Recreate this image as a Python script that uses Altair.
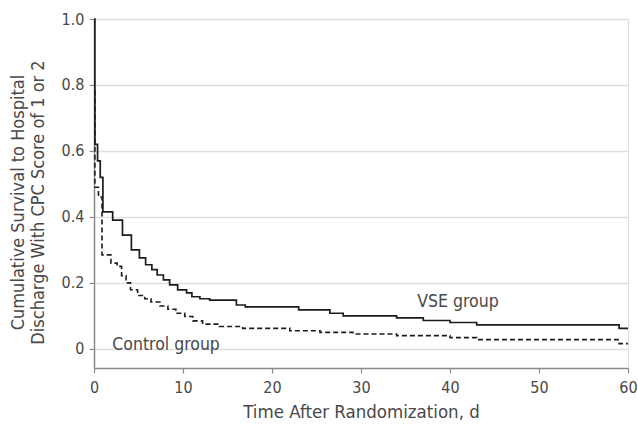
import altair as alt
import pandas as pd

# VSE group (solid) step curve: time (days) and cumulative survival
vse_t = [0, 0.1, 0.4, 0.7, 1.0, 2.1, 3.2, 4.2, 5.1, 5.8, 6.5, 7.1, 7.8, 8.5, 9.4,
         10.4, 11.0, 11.9, 13.0, 16.0, 17.0, 23.0, 26.5, 28.0, 34.0, 37.0, 40.0,
         43.0, 59.0, 60.0]
vse_s = [1.0, 0.62, 0.57, 0.52, 0.415, 0.39, 0.345, 0.30, 0.276, 0.255, 0.24,
         0.224, 0.209, 0.194, 0.179, 0.17, 0.158, 0.152, 0.148, 0.133, 0.127,
         0.118, 0.108, 0.10, 0.094, 0.086, 0.08, 0.073, 0.062, 0.062]

# Control group (dashed) step curve
ctl_t = [0, 0.1, 0.5, 0.9, 1.9, 2.6, 3.1, 3.6, 4.1, 4.9, 5.7, 6.4, 7.4, 8.3, 9.2,
         10.2, 11.1, 12.2, 14.1, 16.7, 22.0, 25.4, 29.1, 34.0, 40.0, 43.0, 59.0,
         60.0]
ctl_s = [0.78, 0.49, 0.46, 0.285, 0.26, 0.25, 0.222, 0.20, 0.179, 0.162, 0.152,
         0.142, 0.13, 0.12, 0.108, 0.098, 0.085, 0.075, 0.068, 0.062, 0.055,
         0.05, 0.045, 0.04, 0.034, 0.028, 0.016, 0.016]

label_text = ["VSE group", "Control group"]
label_t = [40.9, 8.1]
label_s = [0.142, 0.012]

x_ticks = [0, 10, 20, 30, 40, 50, 60]
y_ticks = [0, 0.2, 0.4, 0.6, 0.8, 1.0]

FONT = "DejaVu Sans Condensed, DejaVu Sans, sans-serif"
TEXT_COLOR = "#484848"

vse_df = pd.DataFrame({"t": vse_t, "s": vse_s})
ctl_df = pd.DataFrame({"t": ctl_t, "s": ctl_s})
lab_df = pd.DataFrame({"t": label_t, "s": label_s, "label": label_text})

x_scale = alt.Scale(domain=[0, 60], nice=False, zero=False)
y_scale = alt.Scale(domain=[-0.058, 1.0], nice=False, zero=False)

label_expr = "datum.value == 0 ? '0' : format(datum.value, '.1f')"

x_enc = alt.X(
    "t:Q", scale=x_scale,
    axis=alt.Axis(
        values=x_ticks, grid=False, title="Time After Randomization, d",
        labelFontSize=16, titleFontSize=18.5, labelFont=FONT, titleFont=FONT,
        labelColor=TEXT_COLOR, titleColor=TEXT_COLOR, titleFontWeight="normal",
        domainColor="#8a8a8a", domainWidth=1.5, tickColor="#8a8a8a", tickWidth=1.2,
        tickSize=5, labelPadding=6, titleY=49, titleBaseline="alphabetic",
        labelFlush=False,
    ),
)
y_enc = alt.Y(
    "s:Q", scale=y_scale,
    axis=alt.Axis(
        values=y_ticks, grid=True, gridColor="#dedede", gridWidth=1.5,
        title=["Cumulative Survival to Hospital", "Discharge With CPC Score of 1 or 2"],
        labelExpr=label_expr,
        labelFontSize=16, titleFontSize=18, labelFont=FONT, titleFont=FONT,
        labelColor=TEXT_COLOR, titleColor=TEXT_COLOR, titleFontWeight="normal",
        domainColor="#8a8a8a", domainWidth=1.5, tickColor="#8a8a8a", tickWidth=1.2,
        tickSize=5, labelPadding=5, titleX=-85, titleY=183, titleAngle=-90,
        titleBaseline="top", titleLineHeight=20, titleAlign="center",
    ),
)

vse = alt.Chart(vse_df).mark_line(
    interpolate="step-after", color="#1c1c1c", strokeWidth=1.7
).encode(x=x_enc, y=y_enc)

ctl = alt.Chart(ctl_df).mark_line(
    interpolate="step-after", color="#1c1c1c", strokeWidth=1.6, strokeDash=[5, 3]
).encode(x="t:Q", y="s:Q")

labels = alt.Chart(lab_df).mark_text(
    font=FONT, fontSize=17.5, color=TEXT_COLOR, align="center", baseline="middle"
).encode(x="t:Q", y="s:Q", text="label:N")

chart = alt.layer(vse, ctl, labels).properties(
    width=534, height=349,
    autosize=alt.AutoSizeParams(type="none"),
    padding={"left": 94, "top": 19, "right": 10, "bottom": 59},
).configure_view(stroke=None).configure(background="white")

chart.save("out.html", embed_options={"renderer": "svg", "actions": False})
